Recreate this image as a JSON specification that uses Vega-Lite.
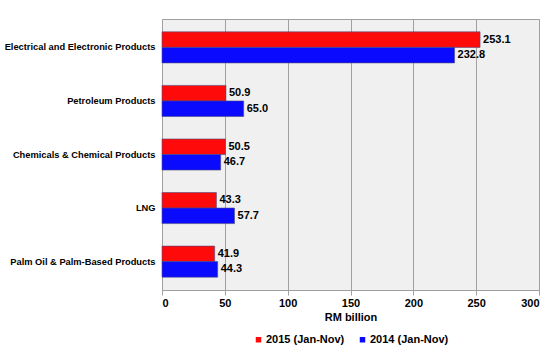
{
  "$schema": "https://vega.github.io/schema/vega-lite/v6.json",
  "width": 377,
  "height": 271,
  "autosize": "none",
  "padding": {"left": 162, "top": 19, "right": 11, "bottom": 60},
  "config": {
    "font": "Liberation Sans",
    "view": {"fill": "#f0f0f0", "stroke": "#a0a0a0", "strokeWidth": 1},
    "axis": {"labelFont": "Liberation Sans", "labelFontWeight": "bold", "labelFontSize": 11, "labelColor": "#000", "titleFontWeight": "bold", "titleFontSize": 11},
    "legend": {"layout": {"bottom": {"anchor": "middle"}}}
  },
  "data": {
    "values": [
      {"category": "Electrical and Electronic Products", "series": "2015 (Jan-Nov)", "value": 253.1},
      {"category": "Electrical and Electronic Products", "series": "2014 (Jan-Nov)", "value": 232.8},
      {"category": "Petroleum Products", "series": "2015 (Jan-Nov)", "value": 50.9},
      {"category": "Petroleum Products", "series": "2014 (Jan-Nov)", "value": 65.0},
      {"category": "Chemicals & Chemical Products", "series": "2015 (Jan-Nov)", "value": 50.5},
      {"category": "Chemicals & Chemical Products", "series": "2014 (Jan-Nov)", "value": 46.7},
      {"category": "LNG", "series": "2015 (Jan-Nov)", "value": 43.3},
      {"category": "LNG", "series": "2014 (Jan-Nov)", "value": 57.7},
      {"category": "Palm Oil & Palm-Based Products", "series": "2015 (Jan-Nov)", "value": 41.9},
      {"category": "Palm Oil & Palm-Based Products", "series": "2014 (Jan-Nov)", "value": 44.3}
    ]
  },
  "encoding": {
    "y": {
      "field": "category", "type": "nominal", "sort": null, "title": null,
      "scale": {"paddingInner": 0.42, "paddingOuter": 0.24},
      "axis": {"ticks": false, "domain": false, "labelPadding": 7, "labelLimit": 200, "labelFontSize": 9.3}
    },
    "yOffset": {"field": "series", "type": "nominal", "sort": ["2015 (Jan-Nov)", "2014 (Jan-Nov)"]},
    "x": {
      "field": "value", "type": "quantitative", "title": "RM billion",
      "scale": {"domain": [0, 300], "nice": false},
      "axis": {"values": [0, 50, 100, 150, 200, 250, 300], "grid": true, "gridColor": "#a0a0a0", "gridOpacity": 1, "domainColor": "#a0a0a0", "tickColor": "#a0a0a0", "tickSize": 5, "labelPadding": 2, "titlePadding": 3, "titleColor": "#000"}
    }
  },
  "layer": [
    {
      "mark": {"type": "bar", "stroke": "#4a4a80", "strokeWidth": 0.6},
      "encoding": {
        "color": {
          "field": "series", "type": "nominal",
          "scale": {"domain": ["2015 (Jan-Nov)", "2014 (Jan-Nov)"], "range": ["#ff0a0a", "#0a0aff"]},
          "legend": {"orient": "bottom", "direction": "horizontal", "title": null, "symbolType": "square", "symbolSize": 30, "symbolStrokeWidth": 0, "labelFontSize": 11, "labelFontWeight": "bold", "labelFont": "Liberation Sans", "offset": 12, "columnPadding": 12, "labelOffset": 2}
        }
      }
    },
    {
      "mark": {"type": "text", "align": "left", "dx": 3, "fontSize": 11, "fontWeight": "bold", "font": "Liberation Sans", "color": "#000"},
      "encoding": {"text": {"field": "value", "type": "quantitative", "format": ".1f"}}
    }
  ]
}
